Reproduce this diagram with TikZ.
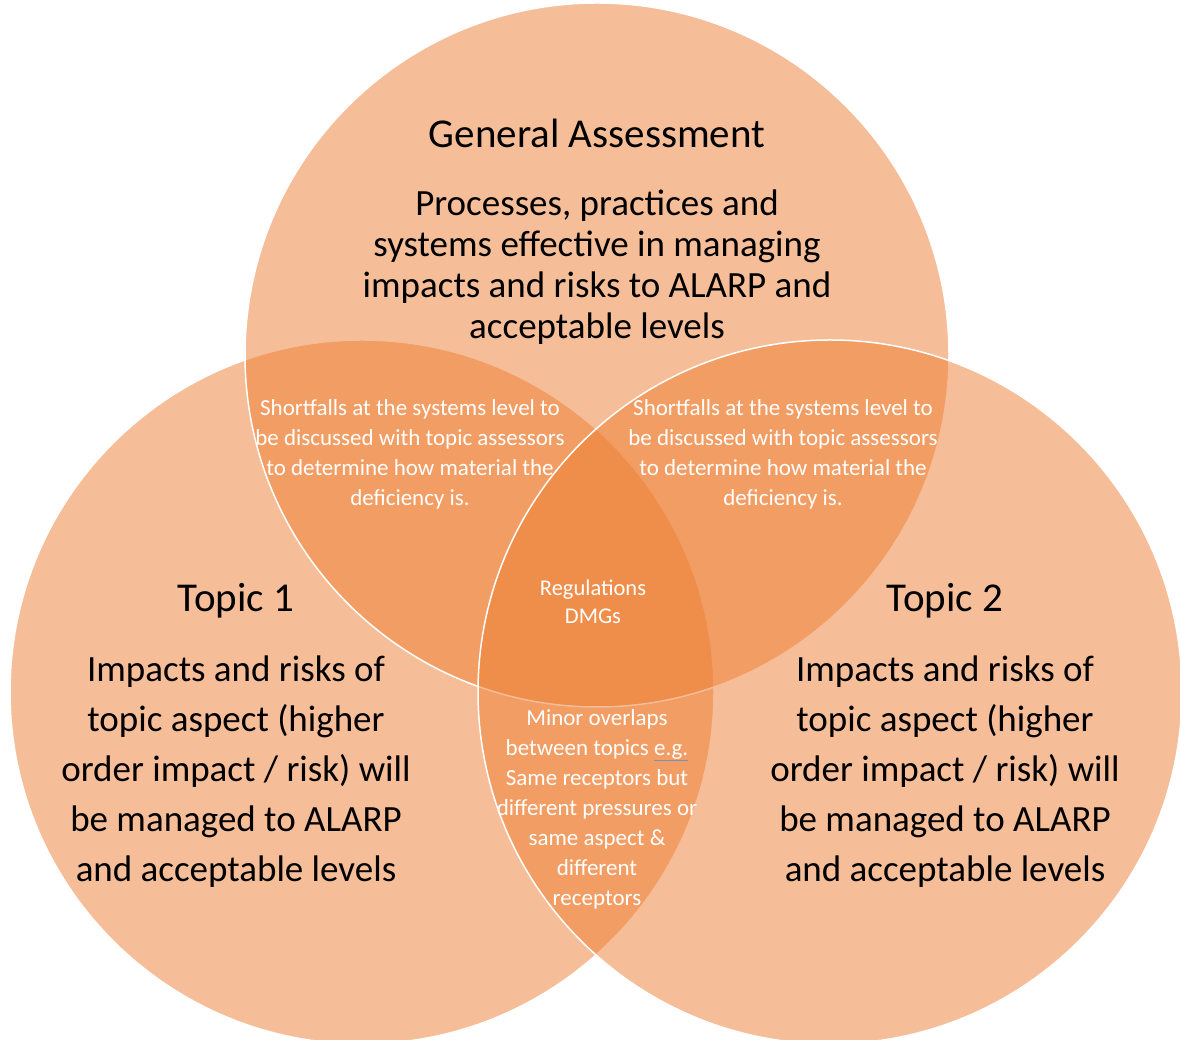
\documentclass[tikz,border=0pt]{standalone}
\usepackage{fontspec}
\setmainfont{Carlito}
\definecolor{venn}{HTML}{ED7D31}
\definecolor{ulblue}{HTML}{7F8FC0}

\begin{document}
\begin{tikzpicture}[x=1pt,y=1pt,
  ring/.style={fill=venn,fill opacity=0.5,draw=white,draw opacity=1,line width=1.5pt},
  head/.style={align=center,inner sep=0pt,font=\fontsize{41}{48}\selectfont},
  body/.style={align=center,inner sep=0pt,font=\fontsize{37}{41}\selectfont},
  side/.style={align=center,inner sep=0pt,font=\fontsize{37}{50}\selectfont},
  note/.style={align=center,inner sep=0pt,text=white,font=\fontsize{23}{30}\selectfont}]
 \useasboundingbox (0,0) rectangle (1180,1040); % 全体の大きさ

 \coordinate (G) at (597,685); % 上の円の中心
 \coordinate (L) at (362,348); % 左の円の中心
 \coordinate (R) at (830,348); % 右の円の中心

 \draw [ring] (L) circle (352);
 \draw [ring] (G) circle (352);
 \draw [ring] (R) circle (352);

 % 上の円の文字
 \node (gtitle) [head] at (597,907) {General Assessment};
 \node (gbody) [body] at (597,773) {Processes, practices and\\systems effective in managing\\impacts and risks to ALARP and\\acceptable levels};

 % 左右の円の文字
 \node (ltitle) [head] at (236,439) {Topic 1};
 \node (lbody) [side] at (236,268) {Impacts and risks of\\topic aspect (higher\\order impact / risk) will\\be managed to ALARP\\and acceptable levels};
 \node (rtitle) [head] at (945,439) {Topic 2};
 \node (rbody) [side] at (945,268) {Impacts and risks of\\topic aspect (higher\\order impact / risk) will\\be managed to ALARP\\and acceptable levels};

 % 重なりの文字
 \node (glshort) [note] at (410,586) {Shortfalls at the systems level to\\be discussed with topic assessors\\to determine how material the\\deficiency is.};
 \node (grshort) [note] at (783,586) {Shortfalls at the systems level to\\be discussed with topic assessors\\to determine how material the\\deficiency is.};
 \node (centre) [note,font=\fontsize{22.5}{28}\selectfont] at (593,438) {Regulations\\DMGs};
 \node (lrminor) [note] at (597,231) {Minor overlaps\\between topics {\color{ulblue}\underline{\textcolor{white}{e.g.}}}\\Same receptors but\\different pressures or\\same aspect \&\\different\\receptors};
\end{tikzpicture}
\end{document}
